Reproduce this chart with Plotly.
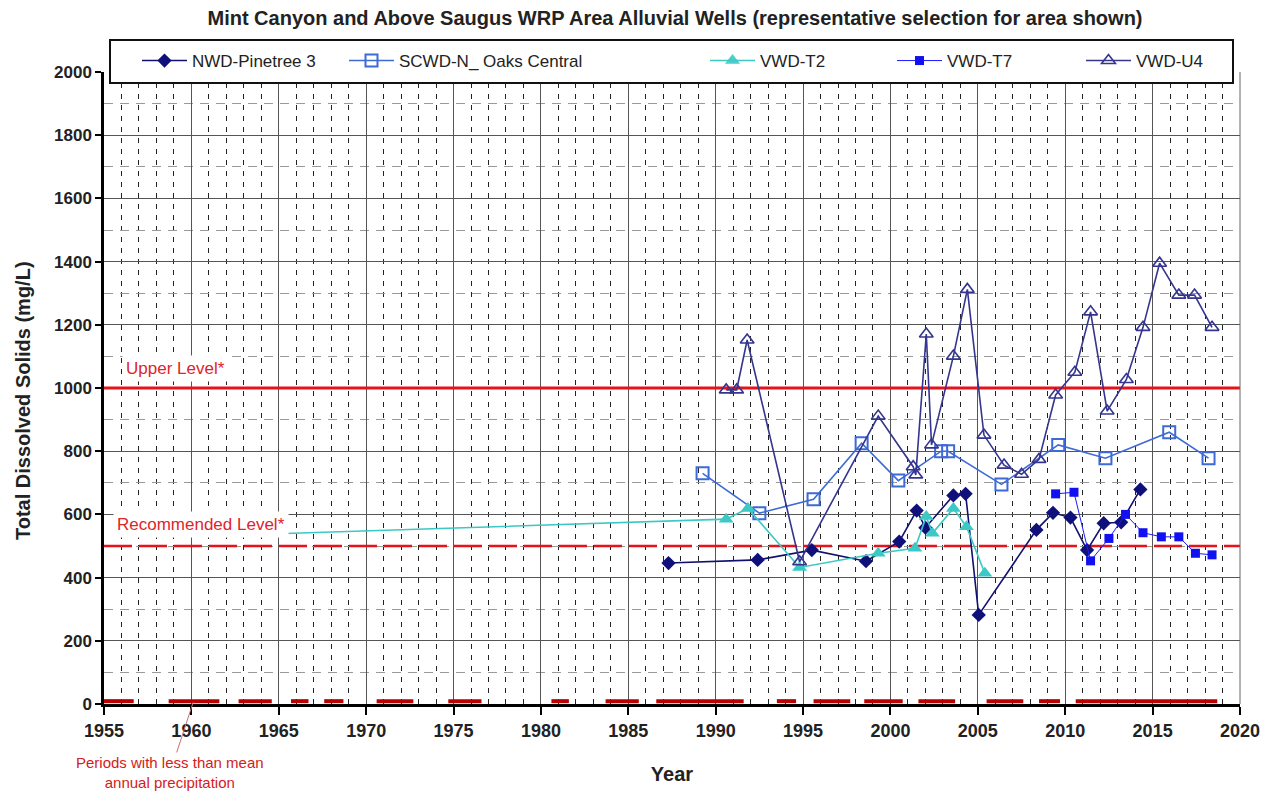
import plotly.graph_objects as go

# ---------------- data ----------------
nwd_years = [1987.3, 1992.4, 1995.5, 1998.6, 2000.5, 2001.5, 2002.0, 2003.6, 2004.3, 2005.05,
             2008.35, 2009.3, 2010.3, 2011.25, 2012.2, 2013.2, 2014.3]
nwd_tds = [446, 456, 487, 452, 514, 612, 558, 660, 665, 282, 551, 605, 590, 487, 572, 575, 679]

scwd_years = [1989.25, 1992.5, 1995.6, 1998.35, 2000.45, 2002.9, 2003.3, 2006.35, 2009.6,
              2012.3, 2015.95, 2018.2]
scwd_tds = [730, 604, 648, 825, 707, 800, 800, 695, 820, 778, 860, 778]

t2_years = [1961.2, 1990.6, 1991.85, 1994.8, 1999.3, 2001.4, 2002.05, 2002.4, 2003.6, 2004.35, 2005.4]
t2_tds = [532, 585, 619, 432, 477, 493, 593, 540, 619, 561, 414]

t7_years = [2009.45, 2010.5, 2011.45, 2012.5, 2013.45, 2014.45, 2015.5, 2016.5, 2017.45, 2018.4]
t7_tds = [665, 670, 453, 524, 600, 542, 529, 529, 477, 472]

u4_years = [1990.6, 1991.2, 1991.8, 1994.8, 1999.3, 2001.3, 2001.45, 2002.05, 2002.35, 2003.6,
            2004.4, 2005.35, 2006.5, 2007.5, 2008.5, 2009.45, 2010.55, 2011.45, 2012.4, 2013.5,
            2014.45, 2015.4, 2016.5, 2017.4, 2018.4]
u4_tds = [994, 994, 1152, 450, 911, 751, 725, 1171, 820, 1101,
          1312, 851, 756, 727, 774, 978, 1050, 1241, 927, 1027,
          1192, 1395, 1294, 1294, 1192]

# dry periods (less than mean annual precipitation): start, end
dry_start = [1955.0, 1958.7, 1962.7, 1965.7, 1967.6, 1970.6, 1974.7, 1980.6, 1983.7, 1986.6,
             1993.5, 1995.6, 1998.5, 2001.6, 2005.5, 2008.5, 2010.6]
dry_end = [1956.7, 1961.6, 1964.6, 1966.7, 1968.7, 1972.7, 1976.6, 1981.6, 1985.6, 1991.6,
           1994.6, 1997.7, 2000.7, 2003.7, 2007.6, 2009.7, 2018.7]

UPPER_LEVEL = 1000
RECOMMENDED_LEVEL = 500
X_RANGE = [1955, 2020]
Y_RANGE = [0, 2000]
x_ticks = list(range(1955, 2021, 5))
y_ticks = list(range(0, 2001, 200))

TITLE = "Mint Canyon and Above Saugus WRP Area Alluvial Wells (representative selection for area shown)"
FONT = "Liberation Sans, Arial, sans-serif"

# ---------------- layout geometry (pixels) ----------------
W, H = 1272, 796
L, R, T, B = 104, 32, 72, 92
PW, PH = W - L - R, H - T - B


def px_x(px):
    return (px - L) / PW


def px_y(py):
    return (H - B - py) / PH


def px_year(px):
    return X_RANGE[0] + (px - L) / PW * (X_RANGE[1] - X_RANGE[0])


fig = go.Figure()

# dry-period bars along the x axis
dx, dy = [], []
for s, e in zip(dry_start, dry_end):
    dx += [s, e, None]
    dy += [9, 9, None]
fig.add_trace(go.Scatter(x=dx, y=dy, mode="lines", line=dict(color="#b80000", width=4),
                         showlegend=False, hoverinfo="skip", cliponaxis=False))

# reference levels
fig.add_trace(go.Scatter(x=X_RANGE, y=[UPPER_LEVEL] * 2, mode="lines",
                         line=dict(color="#e8121a", width=3), showlegend=False, hoverinfo="skip"))
fig.add_trace(go.Scatter(x=X_RANGE, y=[RECOMMENDED_LEVEL] * 2, mode="lines",
                         line=dict(color="#e8121a", width=2.5, dash="28px,7px"),
                         showlegend=False, hoverinfo="skip"))

# series
fig.add_trace(go.Scatter(
    x=nwd_years, y=nwd_tds, name="NWD-Pinetree 3", mode="lines+markers", legend="legend",
    line=dict(color="#10106e", width=1.6),
    marker=dict(symbol="diamond", size=11, color="#10107a", line=dict(width=0))))
fig.add_trace(go.Scatter(
    x=scwd_years, y=scwd_tds, name="SCWD-N_ Oaks Central", mode="lines+markers", legend="legend2",
    line=dict(color="#3d6ad6", width=1.6),
    marker=dict(symbol="square-open", size=12, color="#3d6ad6", line=dict(width=2))))
fig.add_trace(go.Scatter(
    x=t2_years, y=t2_tds, name="VWD-T2", mode="lines+markers", legend="legend3",
    line=dict(color="#3cc8c4", width=1.6),
    marker=dict(symbol="triangle-up", size=13, color="#3cc8c4", line=dict(width=0),
                opacity=[0] + [1] * (len(t2_years) - 1))))
fig.add_trace(go.Scatter(
    x=t7_years, y=t7_tds, name="VWD-T7", mode="lines+markers", legend="legend4",
    line=dict(color="#1a1aff", width=1),
    marker=dict(symbol="square", size=9, color="#1010f0", line=dict(width=0))))
fig.add_trace(go.Scatter(
    x=u4_years, y=u4_tds, name="VWD-U4", mode="lines+markers", legend="legend5",
    line=dict(color="#35358f", width=1.6),
    marker=dict(symbol="triangle-up-open", size=12, color="#35358f", line=dict(width=1.6))))

# legends placed individually
leg_text_px = [195, 402, 763, 950, 1139]
leg_common = dict(orientation="h", yanchor="middle", xanchor="left", bgcolor="rgba(0,0,0,0)",
                  borderwidth=0, font=dict(family=FONT, size=17, color="#222"),
                  itemwidth=45, tracegroupgap=0)
legends = {}
for i, tx in enumerate(leg_text_px):
    key = "legend" if i == 0 else f"legend{i + 1}"
    legends[key] = dict(leg_common, x=px_x(tx - 58), y=px_y(61))

fig.update_layout(**legends)

fig.update_layout(
    width=W, height=H,
    margin=dict(l=L, r=R, t=T, b=B, autoexpand=False),
    paper_bgcolor="white", plot_bgcolor="white",
    font=dict(family=FONT, color="#222"),
    title=dict(text=TITLE, x=(675 - L) / PW, xref="paper", xanchor="center",
               y=1 - 18 / H, yref="container", yanchor="middle",
               font=dict(family=FONT, size=20, color="#222", weight="bold")),
    xaxis=dict(range=X_RANGE, tickvals=x_ticks, ticks="outside", ticklen=8, tickwidth=2,
               tickcolor="black", showline=True, linecolor="black", linewidth=3,
               showgrid=True, gridcolor="#555", gridwidth=1,
               minor=dict(dtick=1, showgrid=True, gridcolor="#222", gridwidth=1,
                          griddash="5px,6px", ticks=""),
               tickfont=dict(family=FONT, size=18, color="#222", weight="bold"),
               title=dict(text="Year", standoff=28,
                          font=dict(family=FONT, size=20, color="#222", weight="bold")),
               zeroline=False, automargin=False, mirror=False),
    yaxis=dict(range=Y_RANGE, tickvals=y_ticks, ticks="outside", ticklen=6, tickwidth=2,
               tickcolor="black", showline=True, linecolor="black", linewidth=2.5,
               showgrid=True, gridcolor="#555", gridwidth=1,
               minor=dict(dtick=100, showgrid=True, gridcolor="#999", gridwidth=1,
                          griddash="9px,7px", ticks=""),
               tickfont=dict(family=FONT, size=17, color="#222", weight="bold"),
               zeroline=False, automargin=False),
)

# y axis title placed as an annotation for exact positioning
fig.add_annotation(x=px_x(23), y=px_y(401), xref="paper", yref="paper",
                   text="Total Dissolved Solids (mg/L)", textangle=-90, showarrow=False,
                   xanchor="center", yanchor="middle",
                   font=dict(family=FONT, size=20, color="#222", weight="bold"))

# right border of plot area
fig.add_shape(type="line", xref="paper", yref="paper", x0=1, x1=1, y0=0, y1=1,
              line=dict(color="#666", width=1))

# legend box
fig.add_shape(type="rect", xref="paper", yref="paper", x0=px_x(110), x1=px_x(1233),
              y0=px_y(83), y1=px_y(40), line=dict(color="#111", width=2), fillcolor="white",
              layer="above")

# level labels
fig.add_annotation(x=px_year(122), y=1063,
                   text="Upper Level*", showarrow=False, xanchor="left", yanchor="middle",
                   font=dict(family=FONT, size=17, color="#e0242a"), bgcolor="white", borderpad=3)
fig.add_annotation(x=px_year(113), y=568,
                   text="Recommended Level*", showarrow=False, xanchor="left", yanchor="middle",
                   font=dict(family=FONT, size=17, color="#e0242a"), bgcolor="white", borderpad=3)

# dry periods note
fig.add_annotation(x=1960.1, y=5, ax=-23, ay=70,
                   text="Periods with less than mean<br>annual precipitation",
                   showarrow=True, arrowhead=0, arrowwidth=1, arrowcolor="#c87070",
                   font=dict(family=FONT, size=15, color="#d42020"), align="center")

fig.write_html("out.html")
